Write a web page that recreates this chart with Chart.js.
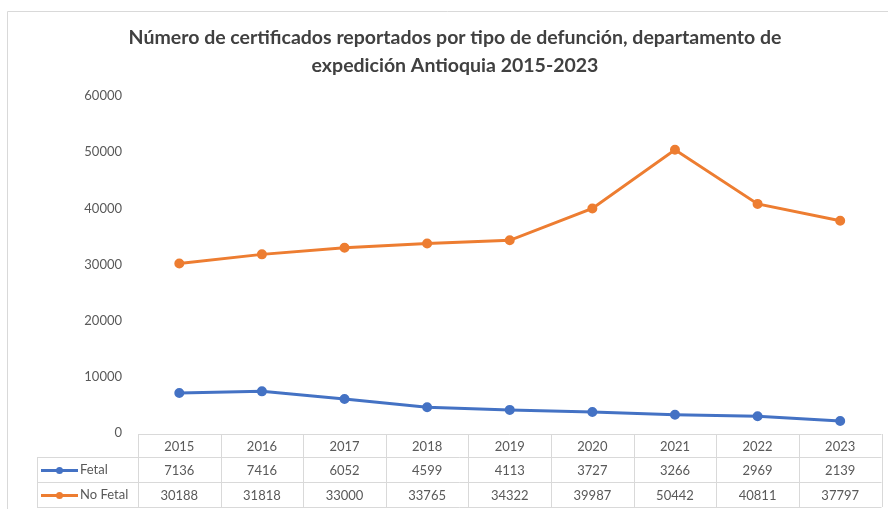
<!DOCTYPE html>
<html>
<head>
<meta charset="utf-8">
<script src="https://cdn.jsdelivr.net/npm/chart.js@4.4.1/dist/chart.umd.min.js"></script>
<style>
  html, body { margin: 0; padding: 0; background: #fff; }
  #wrap { position: relative; width: 888px; height: 509px; }
</style>
</head>
<body>
<div id="wrap"><canvas id="chart"></canvas></div>
<script>
const years = ["2015", "2016", "2017", "2018", "2019", "2020", "2021", "2022", "2023"];
const fetal = [7136, 7416, 6052, 4599, 4113, 3727, 3266, 2969, 2139];
const noFetal = [30188, 31818, 33000, 33765, 34322, 39987, 50442, 40811, 37797];
const seriesNames = ["Fetal", "No Fetal"];
const seriesColors = ["#4472C4", "#ED7D31"];

const FONT = "Lato, 'Open Sans', sans-serif";
const gridColor = "#d9d9d9";
const textColor = "#595959";

// data table under the plot, Excel style
const dataTable = {
  id: "dataTable",
  afterDraw(chart) {
    const { ctx, chartArea } = chart;
    const x = chart.scales.x;
    const top = chartArea.bottom + 1;
    const rowH = [23, 25, 25];
    const labelLeft = 37;
    const colW = (chartArea.right - chartArea.left) / years.length;
    const rows = [top, top + rowH[0], top + rowH[0] + rowH[1], top + rowH[0] + rowH[1] + rowH[2]];

    ctx.save();
    ctx.strokeStyle = gridColor;
    ctx.lineWidth = 1;
    ctx.beginPath();
    // header top line
    ctx.moveTo(chartArea.left, rows[0] + 0.5);
    ctx.lineTo(chartArea.right, rows[0] + 0.5);
    for (let r = 1; r < 4; r++) {
      ctx.moveTo(labelLeft, rows[r] + 0.5);
      ctx.lineTo(chartArea.right, rows[r] + 0.5);
    }
    for (let i = 0; i <= years.length; i++) {
      const cx = Math.round(chartArea.left + i * colW) + 0.5;
      ctx.moveTo(cx, rows[0]);
      ctx.lineTo(cx, rows[3]);
    }
    ctx.moveTo(labelLeft + 0.5, rows[1]);
    ctx.lineTo(labelLeft + 0.5, rows[3]);
    ctx.stroke();

    ctx.font = "13px " + FONT;
    ctx.fillStyle = textColor;
    ctx.textAlign = "center";
    ctx.textBaseline = "middle";
    years.forEach((y, i) => {
      const px = x.getPixelForValue(i);
      ctx.fillText(y, px, (rows[0] + rows[1]) / 2 + 1);
      ctx.fillText(String(fetal[i]), px, (rows[1] + rows[2]) / 2 + 1);
      ctx.fillText(String(noFetal[i]), px, (rows[2] + rows[3]) / 2 + 1);
    });

    // legend keys
    seriesNames.forEach((name, s) => {
      const cy = (rows[s + 1] + rows[s + 2]) / 2;
      ctx.strokeStyle = seriesColors[s];
      ctx.lineWidth = 3;
      ctx.beginPath();
      ctx.moveTo(41, cy + 1);
      ctx.lineTo(78, cy + 1);
      ctx.stroke();
      ctx.fillStyle = seriesColors[s];
      ctx.beginPath();
      ctx.arc(59.5, cy + 1, 3.5, 0, Math.PI * 2);
      ctx.fill();
      ctx.fillStyle = textColor;
      ctx.textAlign = "left";
      ctx.fillText(name, 80, cy);
    });

    // chart frame
    ctx.strokeStyle = gridColor;
    ctx.lineWidth = 1;
    ctx.beginPath();
    ctx.moveTo(7.5, chart.height);
    ctx.lineTo(7.5, 11.5);
    ctx.lineTo(chart.width, 11.5);
    ctx.stroke();
    ctx.restore();
  }
};

new Chart(document.getElementById("chart"), {
  type: "line",
  data: {
    labels: years,
    datasets: [
      {
        label: seriesNames[0],
        data: fetal,
        borderColor: seriesColors[0],
        backgroundColor: seriesColors[0],
        borderWidth: 3,
        pointRadius: 3.5,
        pointHoverRadius: 3.5,
        tension: 0
      },
      {
        label: seriesNames[1],
        data: noFetal,
        borderColor: seriesColors[1],
        backgroundColor: seriesColors[1],
        borderWidth: 3,
        pointRadius: 3.5,
        pointHoverRadius: 3.5,
        tension: 0
      }
    ]
  },
  options: {
    responsive: true,
    maintainAspectRatio: false,
    animation: false,
    layout: { padding: { left: 26, right: 4, top: 0, bottom: 76 } },
    scales: {
      x: {
        display: false,
        offset: true
      },
      y: {
        min: 0,
        max: 60000,
        afterFit: (scale) => { scale.width = 112; },
        ticks: {
          stepSize: 10000,
          padding: 16,
          color: textColor,
          font: { family: FONT, size: 13 },
          callback: (v) => String(v)
        },
        grid: { display: false, drawTicks: false },
        border: { display: false }
      }
    },
    plugins: {
      legend: { display: false },
      tooltip: { enabled: false },
      title: {
        display: true,
        text: ["Número de certificados reportados por tipo de defunción, departamento de", "expedición Antioquia 2015-2023"],
        color: "#404040",
        font: { family: FONT, size: 19.5, weight: "bold", lineHeight: 1.44 },
        padding: { top: 24, bottom: 16 }
      }
    }
  },
  plugins: [dataTable]
});
</script>
</body>
</html>
